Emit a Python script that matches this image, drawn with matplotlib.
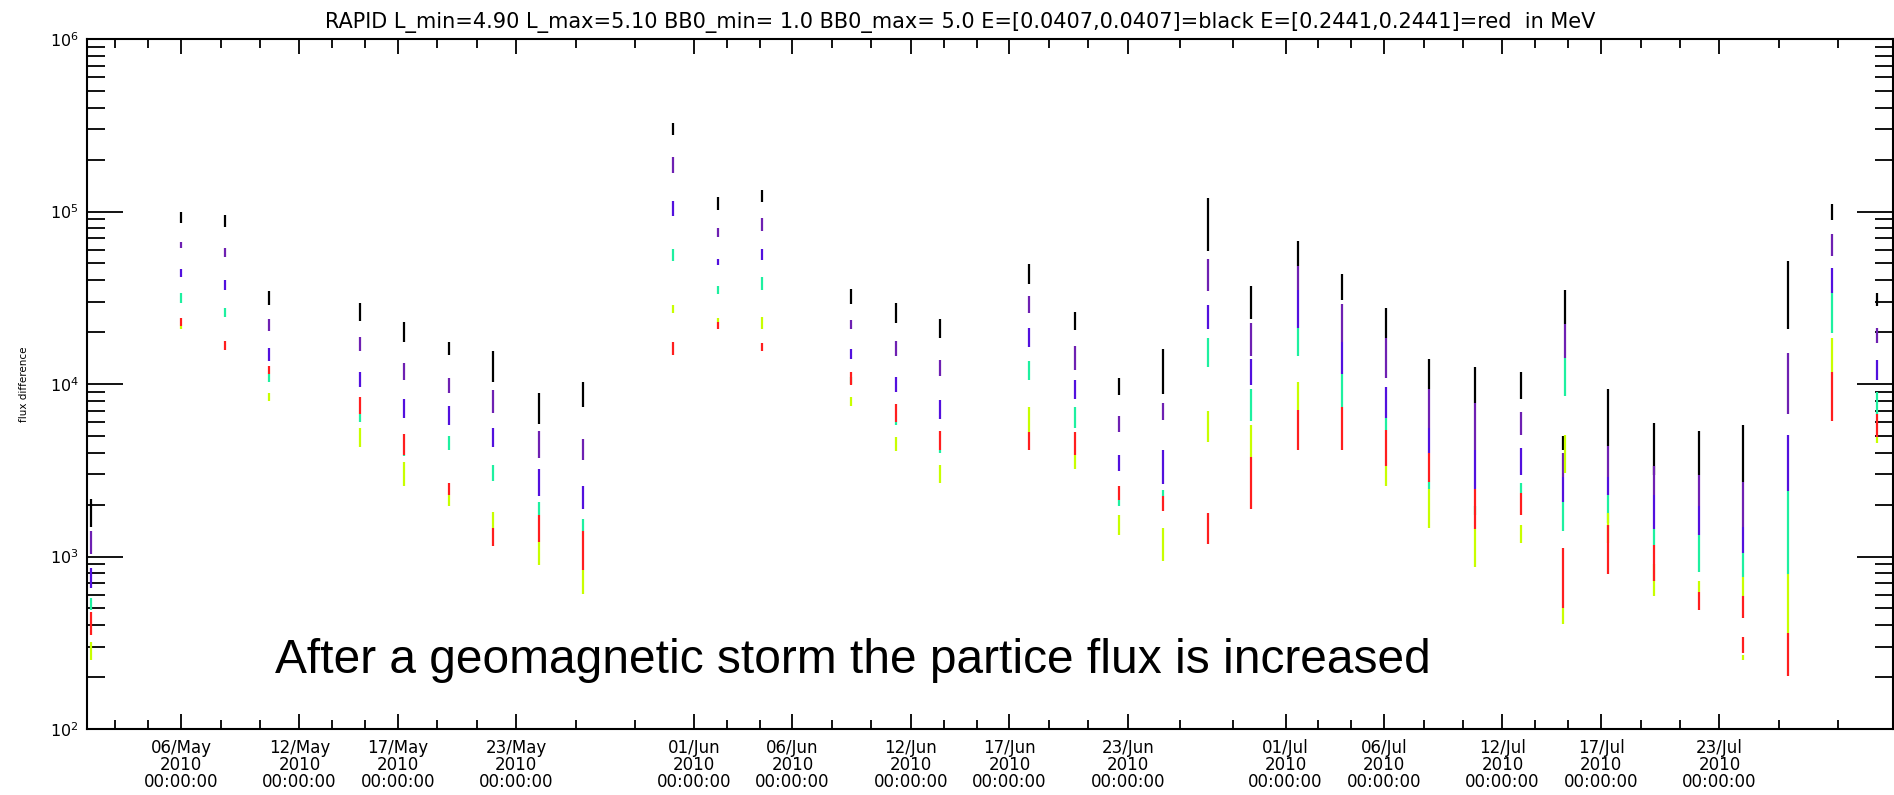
import matplotlib
matplotlib.use("Agg")
import matplotlib.pyplot as plt
import matplotlib.dates as mdates
from matplotlib.ticker import FixedLocator, LogLocator, NullFormatter, LogFormatterSciNotation
from datetime import datetime

# ---- pass times (one column of vertical bars per pass) ----
event_times = [
    "2010-05-01 10:00", "2010-05-06 00:00", "2010-05-08 05:30", "2010-05-10 11:15",
    "2010-05-15 02:00", "2010-05-17 07:00", "2010-05-19 13:30", "2010-05-21 19:00",
    "2010-05-24 03:00", "2010-05-26 09:00", "2010-05-30 22:20", "2010-06-02 04:50",
    "2010-06-04 10:30", "2010-06-08 22:50", "2010-06-11 06:15", "2010-06-13 12:00",
    "2010-06-17 23:15", "2010-06-20 07:40", "2010-06-22 13:40", "2010-06-24 19:10",
    "2010-06-27 01:10", "2010-06-29 05:45", "2010-07-01 15:20", "2010-07-03 20:25",
    "2010-07-06 02:25", "2010-07-08 06:15", "2010-07-10 14:25", "2010-07-12 22:50",
    "2010-07-15 02:00", "2010-07-15 03:35", "2010-07-17 08:10", "2010-07-19 16:50",
    "2010-07-21 23:45", "2010-07-24 04:50", "2010-07-24 04:50", "2010-07-26 12:00",
    "2010-07-28 16:50", "2010-07-31 00:00",
]

# ---- flux difference ranges (low, high) per energy channel ----
flux_black = [
    (1480, 2150), (86300, 100000), (81300, 95500), (28700, 34400),
    (23200, 29500), (17500, 22900), (14800, 17500), (10300, 15500),
    (5890, 8910), (7400, 10300), (279000, 324000), (102000, 122000),
    (113000, 134000), (29200, 35600), (22500, 29500), (18400, 23700),
    (37800, 49300), (20600, 26300), (8610, 10800), (8750, 16000),
    (59000, 120000), (23700, 37200), (48100, 67800), (30600, 43200),
    (18600, 27500), (9310, 13900), (7760, 12600), (8240, 11800),
    (4170, 5000), (22300, 35000), (4390, 9310), (2960, 5930),
    (2960, 5320), (2710, 5750), None, (20700, 51800),
    (89100, 110000), (28200, 33900),
]
flux_purple = [
    (1030, 1400), (61200, 66700), (54300, 61700), (20400, 23700),
    (15500, 18800), (10500, 13300), (8870, 10800), (6810, 9180),
    (3710, 5320), (3610, 4790), (167000, 207000), (71100, 79800),
    (77400, 91600), (20900, 23400), (14600, 17700), (11100, 13800),
    (25900, 32500), (12000, 16500), (5250, 6490), (6210, 7760),
    (34600, 52700), (14500, 22500), (35100, 48100), (17500, 29200),
    (10800, 18600), (5570, 9310), (4130, 7760), (5090, 6890),
    (2900, 3980), (14200, 22300), (2900, 4390), (2260, 3340),
    (1950, 2960), (1480, 2710), None, (6680, 15100),
    (55000, 74100), (17300, 21200),
]
flux_blue = [
    (658, 863), (41900, 46500), (35000, 40200), (13600, 16200),
    (9550, 11700), (6370, 8240), (5750, 7410), (4340, 5570),
    (2230, 3210), (1880, 2570), (94400, 115000), (48800, 53300),
    (52500, 60800), (14000, 16000), (9040, 11000), (6300, 8090),
    (16300, 21200), (8150, 10500), (3110, 3890), (2630, 4130),
    (20700, 28700), (9890, 13900), (21000, 35100), (11400, 17500),
    (6310, 9590), (3980, 5570), (2470, 4130), (2960, 4260),
    (2070, 2900), None, (2260, 2900), (1440, 2260),
    (1330, 1950), (1050, 1480), None, (2400, 5090),
    (33900, 47200), (10500, 13800),
]
flux_cyan = [
    (488, 573), (29400, 33500), (24500, 27500), (10300, 11500),
    (6000, 6680), (3800, 3890), (4130, 5010), (2750, 3390),
    (1730, 2070), (1400, 1650), (51800, 60800), (33300, 37200),
    (35000, 41900), (10000, 11000), (5750, 6000), (3980, 4130),
    (10600, 13600), (5570, 7310), (1950, 2130), (2230, 2430),
    (12600, 18600), (6110, 9310), (14500, 21000), (7310, 11400),
    (5410, 6310), (2470, 2710), (1730, 1950), (2330, 2660),
    (1410, 2070), (8510, 14200), (1570, 2260), (1170, 1440),
    (810, 1330), (760, 1050), None, (790, 2400),
    (19700, 33900), (6680, 9020),
]
flux_yellow = [
    (251, 320), (20900, 21600), None, (7940, 8910),
    (4340, 5570), (2570, 3550), (1970, 2260), (1460, 1800),
    (890, 1220), (610, 840), (25900, 28800), (23000, 24100),
    (20900, 24400), (7410, 8390), (4070, 4940), (2660, 3390),
    (5250, 7400), (3210, 3890), (1330, 1730), (944, 1460),
    (4600, 6970), (3770, 5750), (7100, 10300), None,
    (2550, 3340), (1460, 2470), (871, 1440), (1200, 1530),
    (407, 500), (3050, 5090), (1200, 1780), (590, 910),
    (620, 720), (590, 760), (250, 270), (360, 790),
    (11800, 18600), (4570, 4940),
]
flux_red = [
    (350, 479), (21600, 24100), (15800, 17700), (11500, 12700),
    (6680, 8390), (3890, 5150), (2260, 2660), (1150, 1460),
    (1220, 1730), (840, 1400), (14800, 17500), (20900, 23000),
    (15500, 17300), (9890, 11700), (6000, 7620), (4130, 5350),
    (4130, 5250), (3890, 5250), (2130, 2550), (1830, 2230),
    (1180, 1780), (1890, 3770), (4170, 7100), (4170, 7310),
    (3340, 5410), (2710, 3980), (1440, 2470), (1730, 2330),
    (500, 1120), None, (790, 1530), (720, 1170),
    (490, 620), (440, 590), (275, 340), (204, 360),
    (6110, 11800), (4940, 6680),
]

# ---- axis tick dates ----
tick_dates = [
    "2010-05-06", "2010-05-12", "2010-05-17", "2010-05-23",
    "2010-06-01", "2010-06-06", "2010-06-12", "2010-06-17", "2010-06-23",
    "2010-07-01", "2010-07-06", "2010-07-12", "2010-07-17", "2010-07-23",
]
minor_bounds = ["2010-05-01", "2010-08-01"]
x_start, x_end = "2010-05-01 05:30", "2010-07-31 19:15"

title = ("RAPID L_min=4.90 L_max=5.10 BB0_min= 1.0 BB0_max= 5.0 "
         "E=[0.0407,0.0407]=black E=[0.2441,0.2441]=red  in MeV")
note = "After a geomagnetic storm the partice flux is increased"

channels = [
    (flux_black, "#000000"),
    (flux_purple, "#6e20b2"),
    (flux_blue, "#5210de"),
    (flux_cyan, "#1ef0a0"),
    (flux_yellow, "#c8ff00"),
    (flux_red, "#ff1e1e"),
]

W, H = 1894, 795
fig = plt.figure(figsize=(W / 100, H / 100), dpi=100)
L, R, T, B = 87, 1893, 39, 729
ax = fig.add_axes([L / W, 1 - B / H, (R - L) / W, (B - T) / H])

parse = lambda s: datetime.strptime(s, "%Y-%m-%d %H:%M")
times = [parse(s) for s in event_times]

for series, color in channels:
    xs, lo, hi = [], [], []
    for t, rng in zip(times, series):
        if rng is None:
            continue
        xs.append(t)
        lo.append(rng[0])
        hi.append(rng[1])
    ax.vlines(xs, lo, hi, colors=color, linewidth=1.6)

ax.set_yscale("log")
ax.set_ylim(1e2, 1e6)
ax.set_xlim(parse(x_start), parse(x_end))

# date ticks: labelled majors, two minors splitting each interval in thirds
majors = [datetime.strptime(s, "%Y-%m-%d") for s in tick_dates]
bounds = ([datetime.strptime(minor_bounds[0], "%Y-%m-%d")] + majors +
          [datetime.strptime(minor_bounds[1], "%Y-%m-%d")])
minors = []
for a, b in zip(bounds[:-1], bounds[1:]):
    step = (b - a) / 3
    minors += [a + step, a + 2 * step]
ax.xaxis.set_major_locator(FixedLocator(mdates.date2num(majors)))
ax.xaxis.set_minor_locator(FixedLocator(mdates.date2num(minors)))
ax.xaxis.set_major_formatter(mdates.DateFormatter("%d/%b\n%Y\n%H:%M:%S"))

ax.yaxis.set_major_locator(LogLocator(base=10, numticks=10))
ax.yaxis.set_minor_locator(LogLocator(base=10, subs=range(2, 10), numticks=10))
ax.yaxis.set_minor_formatter(NullFormatter())
ax.yaxis.set_major_formatter(LogFormatterSciNotation())

for s in ax.spines.values():
    s.set_linewidth(1.5)

ax.tick_params(axis="x", which="major", direction="in", length=11, width=1.3,
               top=True, bottom=True, labelsize=12, pad=7)
ax.tick_params(axis="x", which="minor", direction="in", length=6.5, width=1.3,
               top=True, bottom=True)
ax.tick_params(axis="y", which="major", direction="in", length=26, width=1.3,
               left=True, right=True, labelsize=11.5, pad=6)
ax.tick_params(axis="y", which="minor", direction="in", length=13, width=1.3,
               left=True, right=True)
for lab in ax.get_xticklabels():
    lab.set_linespacing(0.95)

fig.text(960 / W, 1 - 28 / H, title, ha="center", va="baseline",
         fontsize=15, family="DejaVu Sans")
fig.text(24 / W, 1 - 384 / H, "flux difference", rotation=90,
         ha="center", va="center", fontsize=7.5, family="DejaVu Sans")
fig.text(275 / W, 1 - 673 / H, note, ha="left", va="baseline",
         fontsize=34.5, family="Liberation Sans")

fig.savefig("out.png", dpi=100)
